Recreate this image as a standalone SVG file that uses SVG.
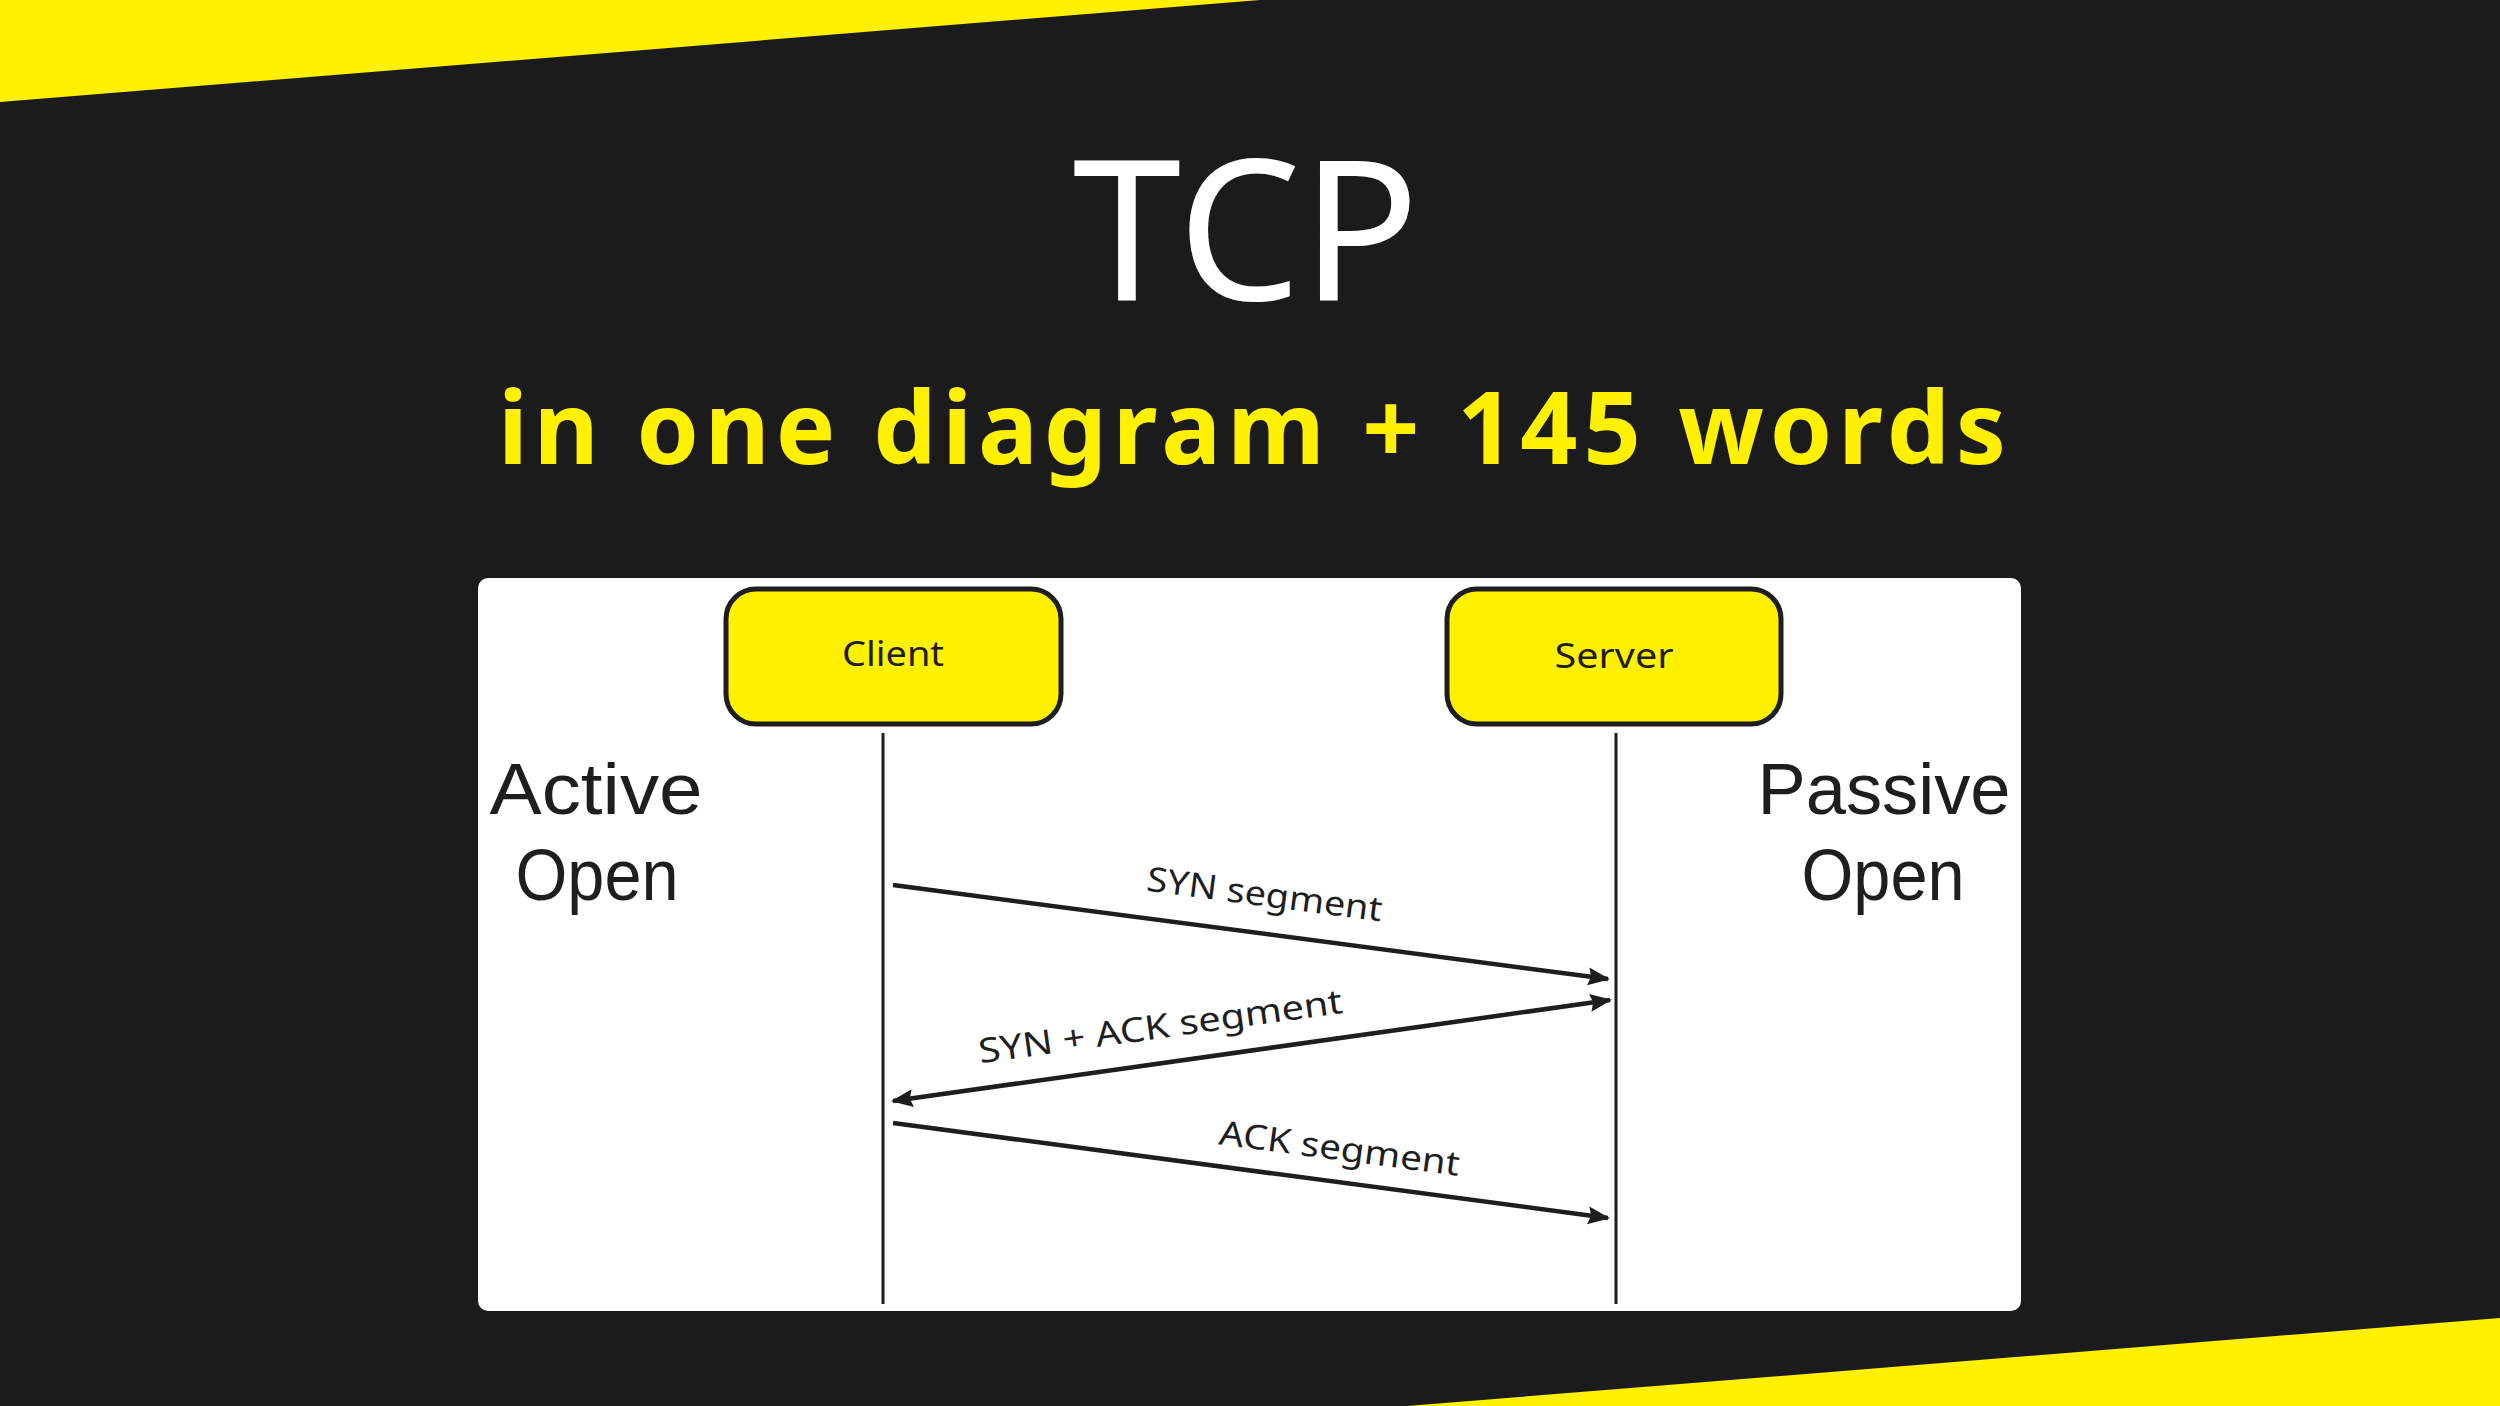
<svg xmlns="http://www.w3.org/2000/svg" width="2500" height="1406" viewBox="0 0 2500 1406">
<style>
.hand{font-family:"Noto Sans","Liberation Sans",sans-serif;fill:#1e1e1e}
.lbl{font-size:34px}
.side{font-family:"Liberation Sans",Arial,sans-serif;font-size:72px}
.box{fill:#fff100;stroke:#1e1e1e;stroke-width:5}
.life{stroke:#1e1e1e;stroke-width:3;fill:none}
.arr{stroke:#1e1e1e;stroke-width:4.5;fill:none}
</style>
<defs>
<marker id="ah" viewBox="0 0 22 20" refX="20" refY="10" markerWidth="22" markerHeight="20" markerUnits="userSpaceOnUse" orient="auto-start-reverse">
<path d="M0,1 L22,10 L0,19 L3,10 z" fill="#1e1e1e"/>
</marker>
</defs>
<rect x="0" y="0" width="2500" height="1406" fill="#1b1b1b"/>
<polygon points="0,0 1260,0 0,102" fill="#fff100"/>
<polygon points="1407,1406 2500,1318 2500,1406" fill="#fff100"/>
<text x="1246" y="300" font-family="Noto Sans, Liberation Sans, sans-serif" font-size="195" fill="#ffffff" text-anchor="middle" textLength="347" lengthAdjust="spacingAndGlyphs">TCP</text>
<text x="1252" y="464" font-family="Noto Sans, Liberation Sans, sans-serif" font-size="100" font-weight="bold" fill="#fff100" text-anchor="middle" textLength="1508" lengthAdjust="spacing">in one diagram + 145 words</text>
<rect x="478" y="578" width="1543" height="733" rx="10" fill="#ffffff"/>
<g id="client">
<rect class="box" x="726" y="589" width="335" height="135" rx="30"/>
<text class="hand lbl" x="893" y="666" text-anchor="middle" textLength="102" lengthAdjust="spacingAndGlyphs">Client</text>
</g>
<g id="server">
<rect class="box" x="1447" y="589" width="334" height="135" rx="30"/>
<text class="hand lbl" x="1614" y="668" text-anchor="middle" textLength="119" lengthAdjust="spacingAndGlyphs">Server</text>
</g>
<g id="active-open">
<text class="hand side" x="596" y="814" text-anchor="middle" textLength="213" lengthAdjust="spacingAndGlyphs">Active</text>
<text class="hand side" x="597" y="900" text-anchor="middle" textLength="163" lengthAdjust="spacingAndGlyphs">Open</text>
</g>
<g id="passive-open">
<text class="hand side" x="1884" y="814" text-anchor="middle" textLength="253" lengthAdjust="spacingAndGlyphs">Passive</text>
<text class="hand side" x="1883" y="900" text-anchor="middle" textLength="163" lengthAdjust="spacingAndGlyphs">Open</text>
</g>
<g id="connectors">
<line class="life" x1="883" y1="733" x2="883" y2="1304"/>
<line class="life" x1="1616" y1="733" x2="1616" y2="1304"/>
<line class="arr" x1="893" y1="885" x2="1608" y2="979" marker-end="url(#ah)"/>
<line class="arr" x1="1610" y1="1000" x2="893" y2="1101" marker-start="url(#ah)" marker-end="url(#ah)"/>
<line class="arr" x1="893" y1="1123" x2="1608" y2="1218" marker-end="url(#ah)"/>
<text class="hand lbl" transform="translate(1263,906) rotate(7.46)" text-anchor="middle" textLength="237" lengthAdjust="spacingAndGlyphs">SYN segment</text>
<text class="hand lbl" transform="translate(1162,1038) rotate(-7.9)" text-anchor="middle" textLength="367" lengthAdjust="spacingAndGlyphs">SYN + ACK segment</text>
<text class="hand lbl" transform="translate(1338,1160) rotate(7.5)" text-anchor="middle" textLength="242" lengthAdjust="spacingAndGlyphs">ACK segment</text>
</g>
</svg>
